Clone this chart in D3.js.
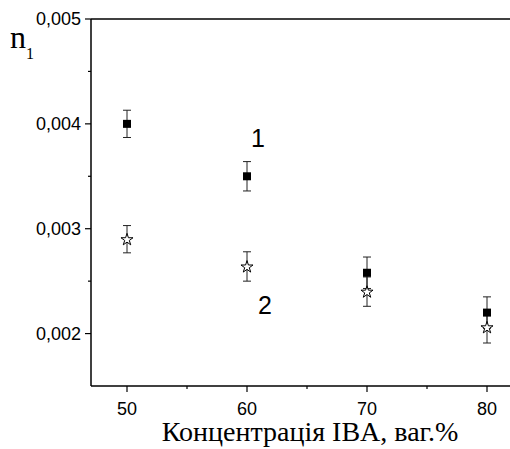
<!DOCTYPE html>
<html>
<head>
<meta charset="utf-8">
<script src="https://cdn.jsdelivr.net/npm/d3@7"></script>
<style>
  body { margin: 0; background: #fff; }
  svg { display: block; }
</style>
</head>
<body>
<svg id="chart" width="510" height="449"></svg>
<script>
// concentration of IBA, wt.%
const concentrations = [50, 60, 70, 80];
// series 1 (filled squares) and series 2 (open stars)
const series1 = [0.0040, 0.0035, 0.00258, 0.00220];
const series1Err = [0.00013, 0.00014, 0.00015, 0.00015];
const series2 = [0.0029, 0.00264, 0.00240, 0.00206];
const series2Err = [0.00013, 0.00014, 0.00014, 0.00015];
const yTicks = [0.002, 0.003, 0.004, 0.005];
const yMinor = [0.0025, 0.0035, 0.0045];
const xTicks = [50, 60, 70, 80];
const xMinor = [55, 65, 75];

const svg = d3.select('#chart');
const margin = { top: 19, left: 91 };
const plotH = 367;

const x = d3.scaleLinear().domain([47, 83]).range([margin.left, margin.left + 432]);
const y = d3.scaleLinear().domain([0.0015, 0.005]).range([margin.top + plotH, margin.top]);

const fmt = d => d3.format('.3f')(d).replace('.', ',');

// frame: left, top, bottom (right side runs off the picture)
const axisStroke = '#000';
svg.append('line').attr('x1', x(47)).attr('x2', x(47)).attr('y1', y(0.0015)).attr('y2', y(0.005))
  .attr('stroke', axisStroke).attr('stroke-width', 1.5);
svg.append('line').attr('x1', x(47)).attr('x2', x(83)).attr('y1', y(0.005)).attr('y2', y(0.005))
  .attr('stroke', axisStroke).attr('stroke-width', 1.5);
svg.append('line').attr('x1', x(47)).attr('x2', x(83)).attr('y1', y(0.0015)).attr('y2', y(0.0015))
  .attr('stroke', axisStroke).attr('stroke-width', 1.5);

// y ticks
const yAxis = svg.append('g');
yAxis.selectAll('.major').data(yTicks).enter().append('line')
  .attr('x1', x(47) - 6).attr('x2', x(47)).attr('y1', d => y(d)).attr('y2', d => y(d))
  .attr('stroke', axisStroke).attr('stroke-width', 1.2);
yAxis.selectAll('.minor').data(yMinor).enter().append('line')
  .attr('x1', x(47) - 3).attr('x2', x(47)).attr('y1', d => y(d)).attr('y2', d => y(d))
  .attr('stroke', axisStroke).attr('stroke-width', 1.2);
yAxis.selectAll('text').data(yTicks).enter().append('text')
  .attr('x', x(47) - 10).attr('y', d => y(d)).attr('dy', '0.35em')
  .attr('text-anchor', 'end')
  .style('font-family', '"Liberation Sans", Arial, sans-serif')
  .style('font-size', '18px')
  .text(fmt);

// x ticks
const xAxis = svg.append('g');
xAxis.selectAll('.major').data(xTicks).enter().append('line')
  .attr('x1', d => x(d)).attr('x2', d => x(d)).attr('y1', y(0.0015)).attr('y2', y(0.0015) + 6)
  .attr('stroke', axisStroke).attr('stroke-width', 1.2);
xAxis.selectAll('.minor').data(xMinor).enter().append('line')
  .attr('x1', d => x(d)).attr('x2', d => x(d)).attr('y1', y(0.0015)).attr('y2', y(0.0015) + 3)
  .attr('stroke', axisStroke).attr('stroke-width', 1.2);
xAxis.selectAll('text').data(xTicks).enter().append('text')
  .attr('x', d => x(d)).attr('y', 415)
  .attr('text-anchor', 'middle')
  .style('font-family', '"Liberation Sans", Arial, sans-serif')
  .style('font-size', '18px')
  .text(d => d);

// axis titles
svg.append('text')
  .attr('x', 310).attr('y', 441)
  .attr('text-anchor', 'middle')
  .style('font-family', '"Liberation Serif", "Times New Roman", serif')
  .style('font-size', '28px')
  .text('Концентрація IBA, ваг.%');

const nLabel = svg.append('text')
  .attr('x', 10).attr('y', 48)
  .style('font-family', '"Liberation Serif", "Times New Roman", serif')
  .style('font-size', '32px');
nLabel.append('tspan').text('n');
nLabel.append('tspan').attr('dy', 11).style('font-size', '16px').text('1');

// error bars
function errorBars(vals, errs, cls) {
  const g = svg.append('g').attr('class', cls);
  const rows = vals.map((v, i) => ({ c: concentrations[i], v, e: errs[i] }));
  g.selectAll('.stem').data(rows).enter().append('line')
    .attr('x1', d => x(d.c)).attr('x2', d => x(d.c))
    .attr('y1', d => y(d.v + d.e)).attr('y2', d => y(d.v - d.e))
    .attr('stroke', '#222').attr('stroke-width', 1);
  [1, -1].forEach(s => {
    g.selectAll('.cap' + s).data(rows).enter().append('line')
      .attr('x1', d => x(d.c) - 4).attr('x2', d => x(d.c) + 4)
      .attr('y1', d => y(d.v + s * d.e)).attr('y2', d => y(d.v + s * d.e))
      .attr('stroke', '#222').attr('stroke-width', 1);
  });
}
errorBars(series1, series1Err, 'err1');
errorBars(series2, series2Err, 'err2');

// markers
svg.append('g').selectAll('rect').data(series1).enter().append('rect')
  .attr('x', (d, i) => x(concentrations[i]) - 4)
  .attr('y', d => y(d) - 4)
  .attr('width', 8).attr('height', 8)
  .attr('fill', '#000');

const star = d3.symbol().type(d3.symbolStar).size(45);
svg.append('g').selectAll('path').data(series2).enter().append('path')
  .attr('d', star)
  .attr('transform', (d, i) => `translate(${x(concentrations[i])},${y(d) + 0.5})`)
  .attr('fill', '#fff').attr('stroke', '#000').attr('stroke-width', 1);

// series labels
svg.append('text').attr('x', 258).attr('y', 147).attr('text-anchor', 'middle')
  .style('font-family', '"Liberation Sans", Arial, sans-serif').style('font-size', '25px').text('1');
svg.append('text').attr('x', 265).attr('y', 314).attr('text-anchor', 'middle')
  .style('font-family', '"Liberation Sans", Arial, sans-serif').style('font-size', '25px').text('2');
</script>
</body>
</html>
